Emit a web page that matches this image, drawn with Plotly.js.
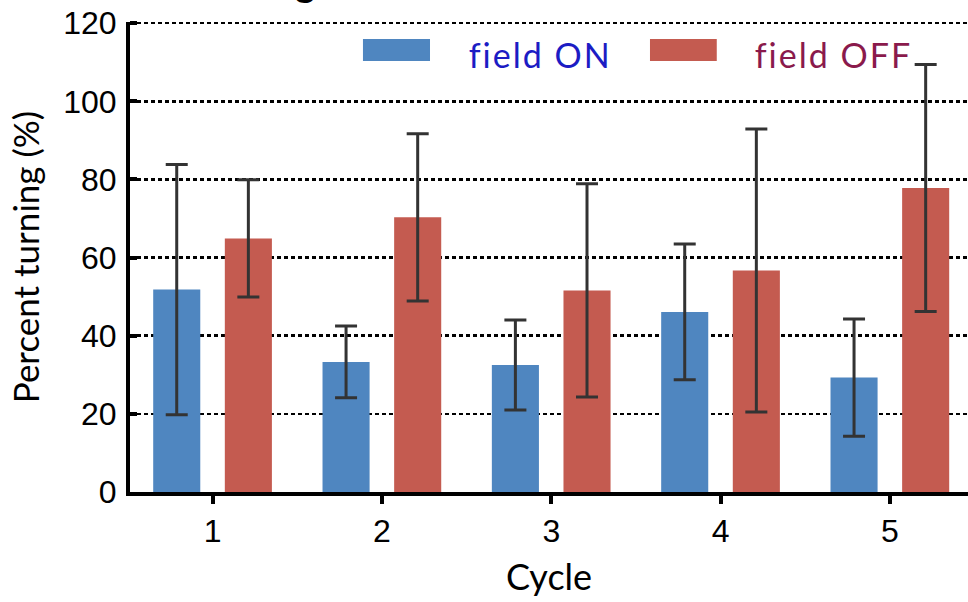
<!DOCTYPE html>
<html>
<head>
<meta charset="utf-8">
<script src="https://cdn.plot.ly/plotly-3.0.1.min.js"></script>
<style>
html,body{margin:0;padding:0;background:#fff;}
#chart{width:968px;height:602px;}
.annotation-text.legtxt{letter-spacing:2px;}
</style>
</head>
<body>
<div id="chart"></div>
<script>
// ---- data ----
var cycles = [1, 2, 3, 4, 5];
var tickLabels = ['1', '2', '3', '4', '5'];
var fieldOnMean = [51.8, 33.3, 32.5, 46.1, 29.3];
var fieldOnErr  = [32.0, 9.2, 11.5, 17.4, 15.0];
var fieldOffMean = [64.9, 70.3, 51.6, 56.7, 77.8];
var fieldOffErr  = [15.0, 21.4, 27.3, 36.2, 31.6];
var seriesNames = ['field ON', 'field OFF'];
var yTicks = [0, 20, 40, 60, 80, 100, 120];

var blue = '#4f86c0';
var red = '#c45b50';
var errColor = '#333333';

var traces = [
  {
    type: 'bar', name: seriesNames[0], x: cycles, y: fieldOnMean,
    width: 0.278, offset: -0.351,
    marker: {color: blue, line: {width: 0}},
    error_y: {type: 'data', array: fieldOnErr, visible: true, color: errColor, thickness: 3, width: 11}
  },
  {
    type: 'bar', name: seriesNames[1], x: cycles, y: fieldOffMean,
    width: 0.278, offset: 0.072,
    marker: {color: red, line: {width: 0}},
    error_y: {type: 'data', array: fieldOffErr, visible: true, color: errColor, thickness: 3, width: 11}
  }
];

var layout = {
  width: 968, height: 602,
  margin: {l: 130, r: 0, t: 22, b: 110, pad: 0},
  paper_bgcolor: '#ffffff', plot_bgcolor: '#ffffff',
  barmode: 'overlay',
  showlegend: false,
  font: {family: 'Liberation Sans, Arial, sans-serif', color: '#000'},
  xaxis: {
    range: [0.512, 5.461],
    tickvals: cycles, ticktext: tickLabels,
    tickfont: {size: 32, family: 'Liberation Sans, Arial, sans-serif', color: '#000'},
    ticks: 'outside', ticklen: 8, tickwidth: 4, tickcolor: '#000',
    ticklabelstandoff: 0,
    showline: true, linecolor: '#000', linewidth: 4,
    showgrid: false, zeroline: false,
    title: {text: 'Cycle', font: {family: 'Lato, sans-serif', size: 36, color: '#000'}, standoff: 17}
  },
  yaxis: {
    range: [0, 120.3],
    tickvals: yTicks,
    tickfont: {size: 32, family: 'Liberation Sans, Arial, sans-serif', color: '#000'},
    ticks: 'inside', ticklen: 7, tickwidth: 4, tickcolor: '#000',
    ticklabelstandoff: 3,
    showline: true, linecolor: '#000', linewidth: 4,
    showgrid: true, gridcolor: '#000', gridwidth: 2.5, griddash: '4px,3px',
    zeroline: false,
    title: {text: 'Percent turning (%)', font: {family: 'Lato, sans-serif', size: 35, color: '#000'}, standoff: 14}
  },
  shapes: [
    {type: 'rect', xref: 'paper', yref: 'paper', x0: 0.278, x1: 0.358, y0: 0.9168, y1: 0.9638,
     fillcolor: blue, line: {width: 0}},
    {type: 'rect', xref: 'paper', yref: 'paper', x0: 0.6205, x1: 0.7002, y0: 0.9168, y1: 0.9638,
     fillcolor: red, line: {width: 0}}
  ],
  annotations: [
    {xref: 'paper', yref: 'paper', x: 0.412, y: 0.931, xanchor: 'left', yanchor: 'middle',
     text: seriesNames[0], showarrow: false,
     font: {family: 'Lato, sans-serif', size: 34, color: '#1c1cc4'}},
    {xref: 'paper', yref: 'paper', x: 0.7545, y: 0.931, xanchor: 'left', yanchor: 'middle',
     text: seriesNames[1], showarrow: false,
     font: {family: 'Lato, sans-serif', size: 34, color: '#8a1a4c'}},
    {xref: 'paper', yref: 'paper', x: 0.209, y: 1.037, xanchor: 'center', yanchor: 'bottom',
     text: '<b>g</b>', showarrow: false,
     font: {family: 'Liberation Sans, Arial, sans-serif', size: 40, color: '#000'}}
  ]
};

Plotly.newPlot('chart', traces, layout, {displayModeBar: false, staticPlot: true}).then(function(){
  var anns = document.querySelectorAll('.annotation-text');
  if (anns[0]) anns[0].classList.add('legtxt');
  if (anns[1]) anns[1].classList.add('legtxt');
});
</script>
</body>
</html>
